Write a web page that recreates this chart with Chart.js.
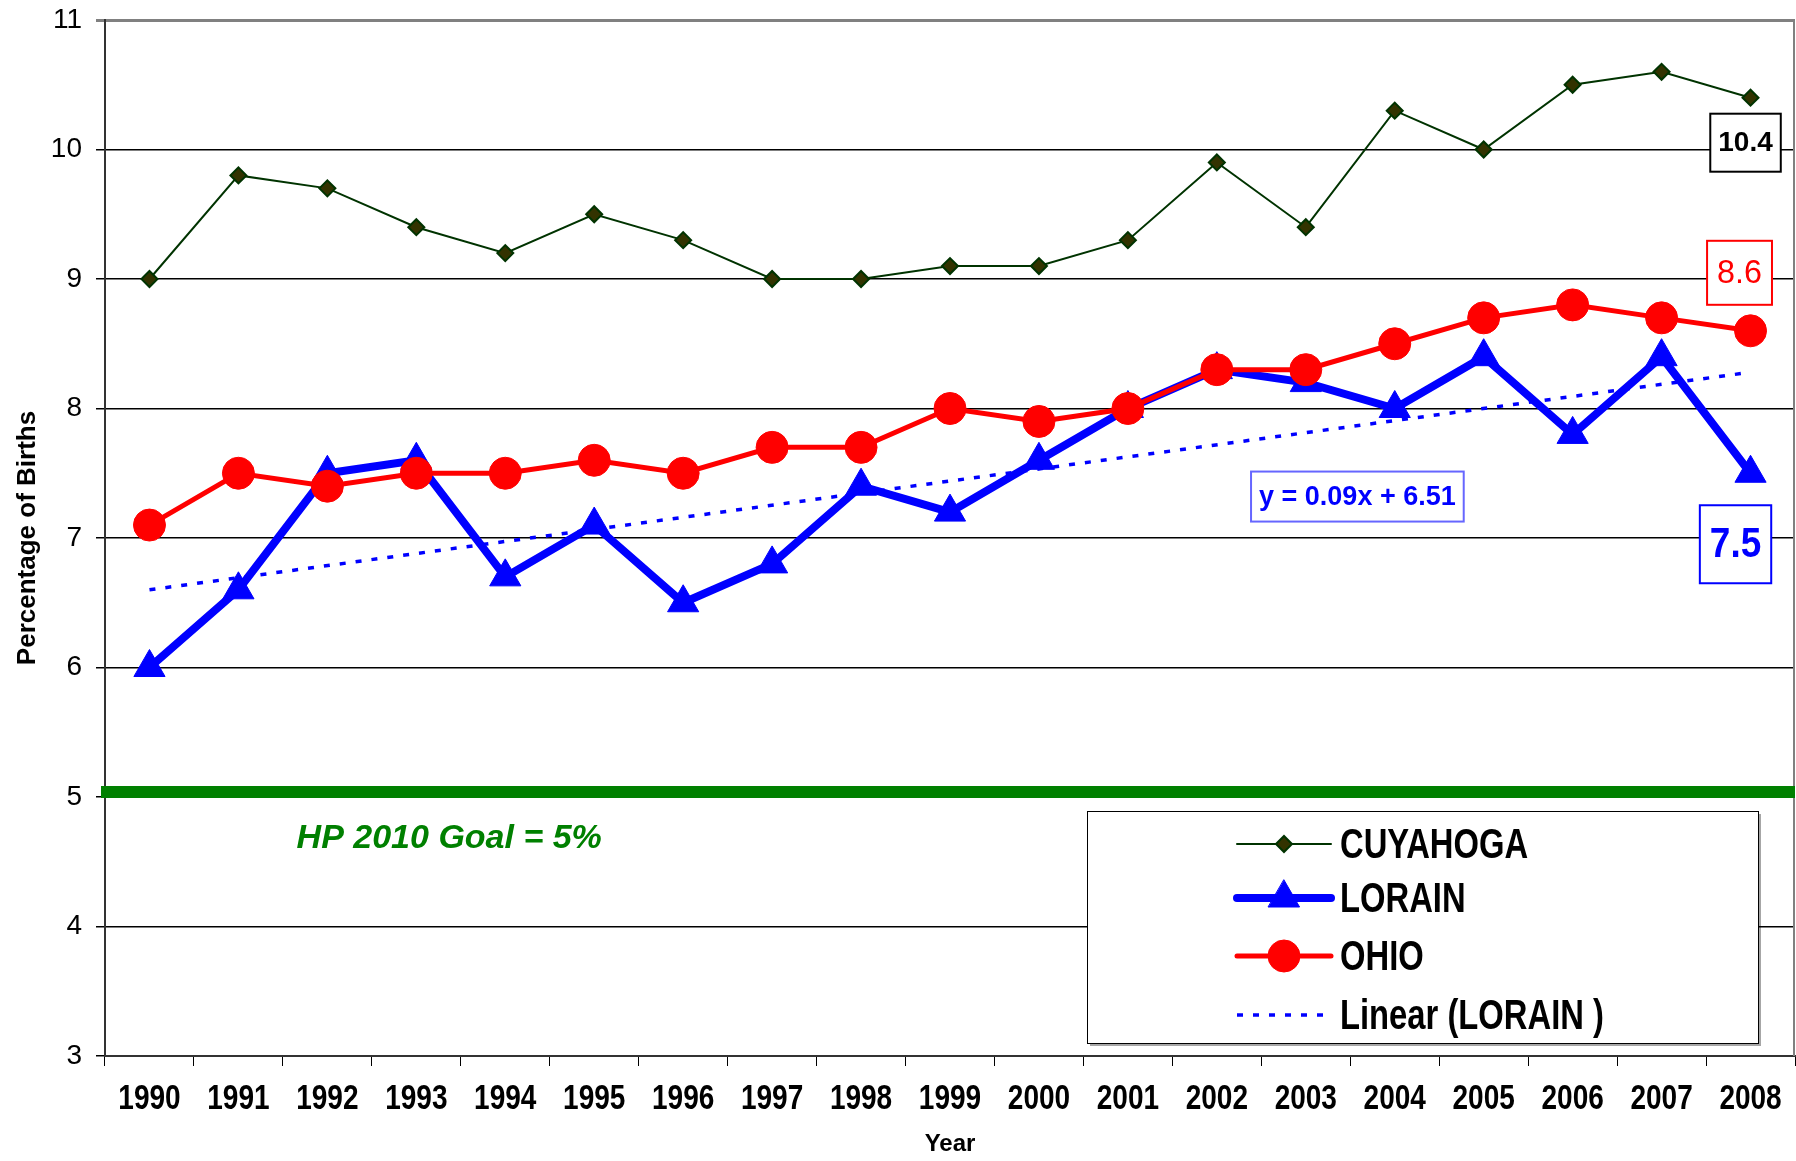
<!DOCTYPE html>
<html>
<head>
<meta charset="utf-8">
<script src="https://cdn.jsdelivr.net/npm/chart.js@4/dist/chart.umd.min.js"></script>
<style>
    body { margin: 0; background: #fff; }
    #wrap { width: 1796px; height: 1161px; position: relative; }
</style>
</head>
<body>
<div id="wrap"><canvas id="chart"></canvas></div>
<script>
var years = ['1990', '1991', '1992', '1993', '1994', '1995', '1996', '1997', '1998', '1999',
    '2000', '2001', '2002', '2003', '2004', '2005', '2006', '2007', '2008'];
var cuyahoga = [9.0, 9.8, 9.7, 9.4, 9.2, 9.5, 9.3, 9.0, 9.0, 9.1, 9.1, 9.3, 9.9, 9.4, 10.3, 10.0, 10.5, 10.6, 10.4];
var lorain = [6.0, 6.6, 7.5, 7.6, 6.7, 7.1, 6.5, 6.8, 7.4, 7.2, 7.6, 8.0, 8.3, 8.2, 8.0, 8.4, 7.8, 8.4, 7.5];
var ohio = [7.1, 7.5, 7.4, 7.5, 7.5, 7.6, 7.5, 7.7, 7.7, 8.0, 7.9, 8.0, 8.3, 8.3, 8.5, 8.7, 8.8, 8.7, 8.6];
var trendEnds = [6.6, 8.28];
var yTicks = [3, 4, 5, 6, 7, 8, 9, 10, 11];
var goalValue = 5;
var goalText = 'HP 2010 Goal = 5%';
var equationText = 'y = 0.09x + 6.51';

var sans = "'Liberation Sans', Arial, sans-serif";

var trend = years.map(function (y, i) {
    if (i === 0) return trendEnds[0];
    if (i === years.length - 1) return trendEnds[1];
    return null;
});

// text squeezed sideways, the source uses a narrow bold face
function narrowText(ctx, text, x, y, font, sx, align) {
    ctx.save();
    ctx.font = font;
    ctx.textAlign = align;
    ctx.textBaseline = 'middle';
    ctx.translate(x, y);
    ctx.scale(sx, 1);
    ctx.fillText(text, 0, 0);
    ctx.restore();
}

function box(ctx, cx, cy, text, font, sx, color, border, padX, padY) {
    ctx.font = font;
    var w = ctx.measureText(text).width * sx + padX * 2;
    var h = padY * 2;
    ctx.fillStyle = '#fff';
    ctx.fillRect(cx - w / 2, cy - h / 2, w, h);
    ctx.strokeStyle = border;
    ctx.lineWidth = 2;
    ctx.strokeRect(cx - w / 2, cy - h / 2, w, h);
    ctx.fillStyle = color;
    narrowText(ctx, text, cx, cy + 1, font, sx, 'center');
}

var extras = {
    id: 'extras',
    beforeDatasetsDraw: function (chart) {
        var ctx = chart.ctx;
        var area = chart.chartArea;
        var ys = chart.scales.y;
        ctx.save();
        ctx.strokeStyle = '#808080';
        ctx.lineWidth = 2;
        ctx.beginPath();
        ctx.moveTo(area.right - 1, area.top);
        ctx.lineTo(area.right - 1, area.bottom);
        ctx.stroke();
        var gy = ys.getPixelForValue(goalValue) - 5;
        ctx.strokeStyle = '#008000';
        ctx.lineWidth = 12;
        ctx.beginPath();
        ctx.moveTo(area.left - 4, gy);
        ctx.lineTo(area.right, gy);
        ctx.stroke();
        ctx.restore();
    },
    afterDraw: function (chart) {
        var ctx = chart.ctx;
        var xs = chart.scales.x;
        var ys = chart.scales.y;
        var area = chart.chartArea;
        var last = years.length - 1;
        var lx = xs.getPixelForValue(last);
        ctx.save();

        ctx.fillStyle = '#000';
        years.forEach(function (yr, i) {
            narrowText(ctx, yr, xs.getPixelForValue(i), area.bottom + 43, "bold 35px " + sans, 0.8, 'center');
        });

        ctx.font = "italic bold 34px " + sans;
        ctx.fillStyle = '#008000';
        ctx.textAlign = 'center';
        ctx.textBaseline = 'middle';
        ctx.fillText(goalText, xs.getPixelForValue(3.37), ys.getPixelForValue(4.68));

        box(ctx, lx - 5, ys.getPixelForValue(cuyahoga[last]) + 45, cuyahoga[last].toFixed(1),
            "bold 28px " + sans, 1, '#000', '#000', 8, 29);
        box(ctx, lx - 11, ys.getPixelForValue(ohio[last]) - 58, ohio[last].toFixed(1),
            "34px " + sans, 0.95, '#ff0000', '#ff0000', 10, 32);
        box(ctx, lx - 15, ys.getPixelForValue(lorain[last]) + 71, lorain[last].toFixed(1),
            "bold 42px " + sans, 0.88, '#0000ff', '#0000ff', 10, 39);
        box(ctx, xs.getPixelForValue(13.58), ys.getPixelForValue(7.32), equationText,
            "bold 27px " + sans, 1, '#0000ff', '#6666ff', 8, 25);

        // legend box
        var bx = 1087, by = 811, bw = 671, bh = 232;
        ctx.fillStyle = 'rgba(0,0,0,0.35)';
        ctx.fillRect(bx + 3, by + 3, bw, bh);
        ctx.fillStyle = '#fff';
        ctx.fillRect(bx, by, bw, bh);
        ctx.strokeStyle = '#000';
        ctx.lineWidth = 1;
        ctx.strokeRect(bx + 0.5, by + 0.5, bw, bh);

        var rows = [844, 898, 956, 1015];
        var sx0 = 1237, sx1 = 1331, mx = 1284;
        chart.data.datasets.forEach(function (ds, i) {
            var y = rows[i];
            ctx.strokeStyle = ds.borderColor;
            ctx.lineWidth = ds.borderWidth;
            ctx.lineCap = ds.borderDash ? 'butt' : 'round';
            ctx.setLineDash(ds.borderDash || []);
            ctx.beginPath();
            ctx.moveTo(sx0, y);
            ctx.lineTo(sx1, y);
            ctx.stroke();
            ctx.setLineDash([]);
            if (ds.pointRadius > 0) {
                ctx.fillStyle = ds.pointBackgroundColor;
                ctx.strokeStyle = ds.pointBorderColor;
                ctx.lineWidth = ds.pointBorderWidth;
                Chart.helpers.drawPoint(ctx, {
                    pointStyle: ds.pointStyle,
                    radius: ds.pointRadius,
                    rotation: 0,
                    borderWidth: ds.pointBorderWidth
                }, mx, y);
            }
            ctx.fillStyle = '#000';
            narrowText(ctx, ds.label, 1340, y + 2, "bold 42px " + sans, 0.78, 'left');
        });
        ctx.restore();
    }
};

var datos = {
    labels: years,
    datasets: [{
            label: 'CUYAHOGA',
            data: cuyahoga,
            borderColor: '#003300',
            borderWidth: 2,
            pointStyle: 'rectRot',
            pointRadius: 8,
            pointBackgroundColor: '#333300',
            pointBorderColor: '#003300',
            pointBorderWidth: 2,
            order: 3
        },
        {
            label: 'LORAIN',
            data: lorain,
            borderColor: '#0000ff',
            borderWidth: 8,
            pointStyle: 'triangle',
            pointRadius: 18,
            pointBackgroundColor: '#0000ff',
            pointBorderColor: '#0000ff',
            pointBorderWidth: 1,
            order: 1
        },
        {
            label: 'OHIO',
            data: ohio,
            borderColor: '#ff0000',
            borderWidth: 5,
            pointStyle: 'circle',
            pointRadius: 16,
            pointBackgroundColor: '#ff0000',
            pointBorderColor: '#ff0000',
            pointBorderWidth: 1,
            order: 0
        },
        {
            label: 'Linear (LORAIN )',
            data: trend,
            borderColor: '#0000ff',
            borderWidth: 3.5,
            borderDash: [6, 10],
            pointRadius: 0,
            spanGaps: true,
            order: 2
        }
    ]
};

var canvas = document.getElementById('chart').getContext('2d');
window.line = new Chart(canvas, {
    type: 'line',
    data: datos,
    plugins: [extras],
    options: {
        responsive: true,
        maintainAspectRatio: false,
        animation: false,
        layout: { autoPadding: false, padding: { top: 20, right: 1, left: 0, bottom: 0 } },
        elements: { line: { tension: 0 } },
        plugins: {
            legend: { display: false },
            tooltip: { enabled: false }
        },
        scales: {
            x: {
                offset: true,
                grid: { offset: true, drawOnChartArea: false, tickLength: 10, color: '#000', lineWidth: 1 },
                border: { color: '#333', width: 2 },
                ticks: { display: false, autoSkip: false },
                title: { display: true, text: 'Year', color: '#000', padding: { top: 0, bottom: 2 },
                    font: { family: sans, size: 24, weight: 'bold' } },
                afterFit: function (scale) {
                    scale.height = 105;
                    scale.paddingLeft = 0;
                    scale.paddingRight = 0;
                }
            },
            y: {
                min: yTicks[0],
                max: yTicks[yTicks.length - 1],
                afterBuildTicks: function (scale) {
                    scale.ticks = yTicks.map(function (v) { return { value: v }; });
                },
                grid: {
                    color: function (c) { return c.tick && c.tick.value === 11 ? '#808080' : '#000'; },
                    lineWidth: function (c) { return c.tick && c.tick.value === 11 ? 3 : 1.5; },
                    tickLength: 9
                },
                border: { color: '#333', width: 2 },
                ticks: { color: '#000', padding: 14, font: { family: sans, size: 28 } },
                title: { display: true, text: 'Percentage of Births', color: '#000', padding: { top: 12, bottom: 0 },
                    font: { family: sans, size: 26, weight: 'bold' } },
                afterFit: function (scale) {
                    scale.width = 105;
                    scale.paddingTop = 0;
                    scale.paddingBottom = 0;
                }
            }
        }
    }
});
</script>
</body>
</html>
